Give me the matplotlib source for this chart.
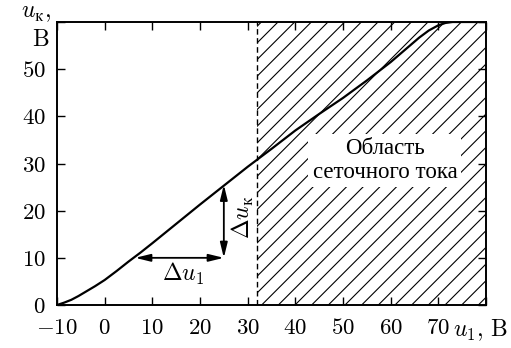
import matplotlib
matplotlib.use("Agg")
import matplotlib.pyplot as plt
import numpy as np

plt.rcParams['mathtext.fontset'] = 'cm'
plt.rcParams['font.family'] = ['Liberation Serif', 'DejaVu Serif']
plt.rcParams['hatch.linewidth'] = 0.8

# curve data (u1 in V, uk in V)
u1 = [-10, -8.5, -7, -5.5, -4, -2, 0, 2.5, 5, 7.5, 10, 15, 20, 25, 30, 35, 40, 45, 50, 55, 60, 63, 66, 68, 70, 71.5, 73, 75, 78, 80]
uk = [0, 0.5, 1.1, 1.9, 2.8, 4.0, 5.3, 7.2, 9.2, 11.1, 13.1, 17.2, 21.3, 25.3, 29.3, 33.1, 37.0, 40.5, 43.9, 47.6, 51.5, 54.1, 56.7, 58.2, 59.3, 59.8, 60, 60, 60, 60]

grid_current_start = 32
xlim = (-10, 80)
ylim = (0, 60)
xticks = [-10, 0, 10, 20, 30, 40, 50, 60, 70, 80]
xticklabels = ['$-10$', '$0$', '$10$', '$20$', '$30$', '$40$', '$50$', '$60$', '$70$', '']
yticks = [0, 10, 20, 30, 40, 50, 60]
yticklabels = ['$0$', '$10$', '$20$', '$30$', '$40$', '$50$', '']

# increments shown by arrows
du1_start, du1_end, du_level = 6.4, 25, 10
duk_top = 25.5

fig = plt.figure(figsize=(5.11, 3.48), dpi=100)
ax = fig.add_axes([57/511, 1-305/348, (486-57)/511, (305-22)/348])

ax.fill_between([grid_current_start, xlim[1]], ylim[0], ylim[1], facecolor='white',
                edgecolor='black', hatch='//', linewidth=0, zorder=1)
ax.plot([grid_current_start, grid_current_start], ylim, color='black', lw=1.0,
        ls=(0, (4, 2.5)), zorder=2)

ax.plot(u1, uk, color='black', lw=1.6, zorder=4, solid_capstyle='round')

ax.text(58.8, 30.6, 'Область\nсеточного тока', ha='center', va='center', fontsize=16.5,
        linespacing=1.2, zorder=3,
        bbox=dict(facecolor='white', edgecolor='none', pad=3))

ap = dict(arrowstyle='<|-|>,head_length=0.9,head_width=0.22', color='black', lw=1.3,
          shrinkA=0, shrinkB=0)
ax.annotate('', xy=(du1_start, du_level), xytext=(du1_end, du_level), arrowprops=ap, zorder=5)
ax.annotate('', xy=(du1_end, du_level), xytext=(du1_end, duk_top), arrowprops=ap, zorder=5)
ax.text(16.5, 6.5, r'$\Delta u_1$', ha='center', va='center', fontsize=17)
ax.text(29.0, 18.5, r'$\Delta u_{\mathrm{к}}$', ha='center', va='center', fontsize=17, rotation=90)

ax.set_xlim(*xlim)
ax.set_ylim(*ylim)
ax.set_xticks(xticks)
ax.set_xticklabels(xticklabels, fontsize=16.5)
ax.set_yticks(yticks)
ax.set_yticklabels(yticklabels, fontsize=16.5)
ax.tick_params(axis='x', pad=9)
ax.tick_params(axis='y', pad=8)
ax.tick_params(direction='in', length=6, width=1.0, top=True, right=True)
for s in ax.spines.values():
    s.set_linewidth(1.4)

fig.text(36/511, 1-13/348, r'$u_{\mathrm{к}},$', ha='center', va='center', fontsize=17)
fig.text(41/511, 1-40/348, r'$\mathrm{B}$', ha='center', va='center', fontsize=17)
fig.text(508/511, 1-330/348, r'$u_1,\,\mathrm{B}$', ha='right', va='center', fontsize=17)

fig.savefig('out.png', dpi=100)
